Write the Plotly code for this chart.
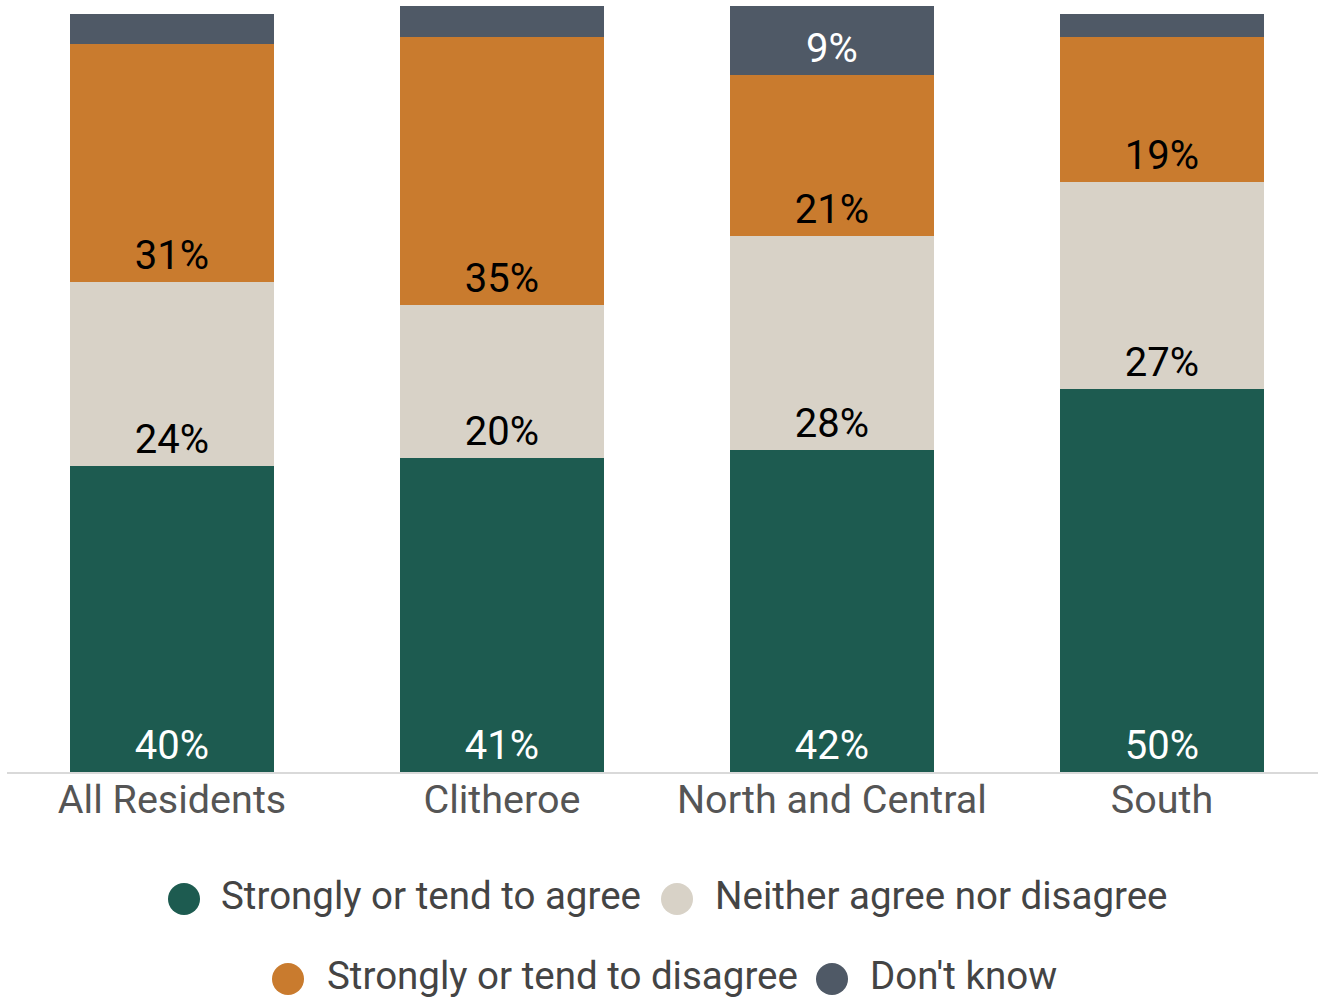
import plotly.graph_objects as go

categories = ["All Residents", "Clitheroe", "North and Central", "South"]
series_names = [
    "Strongly or tend to agree",
    "Neither agree nor disagree",
    "Strongly or tend to disagree",
    "Don't know",
]
agree = [40, 41, 42, 50]
neither = [24, 20, 28, 27]
disagree = [31, 35, 21, 19]
dont_know = [4, 4, 9, 3]

series_values = [agree, neither, disagree, dont_know]
colors = ["#1d5b50", "#d8d2c7", "#c97b2e", "#4f5966"]
label_colors = ["#ffffff", "#000000", "#000000", "#ffffff"]

FONT = "Roboto, Arial, sans-serif"
W, H = 1318, 997
M_L, M_R, M_T, M_B = 7, 0, 6, 225
PW, PH = W - M_L - M_R, H - M_T - M_B

fig = go.Figure()
for name, vals, col, lcol in zip(series_names, series_values, colors, label_colors):
    # small segments are left unlabelled
    labels = [f"{v}%" if v >= 5 else "" for v in vals]
    fig.add_trace(go.Bar(
        x=categories, y=vals, name=name,
        marker=dict(color=col, line=dict(width=0)),
        text=labels, textposition="inside", insidetextanchor="start",
        textangle=0, textfont=dict(family=FONT, size=40, color=lcol),
        showlegend=False, hoverinfo="skip",
    ))


def px_x(px):
    return (px - M_L) / PW


def px_y(py):
    return (H - M_B - py) / PH


# legend drawn as pixel-sized circles with text beside them
# (circle centre x, circle centre y, text left x, text centre y)
legend_items = [
    (184, 899, 220, 895),
    (677, 899, 714, 895),
    (288, 979, 326, 975),
    (832, 979, 869, 975),
]
shapes = []
annotations = []
for (cx, cy, tx, ty), name, col in zip(legend_items, series_names, colors):
    shapes.append(dict(
        type="circle", xref="paper", yref="paper",
        xsizemode="pixel", ysizemode="pixel",
        xanchor=px_x(cx), yanchor=px_y(cy),
        x0=-16, x1=16, y0=-16, y1=16,
        fillcolor=col, line=dict(width=0),
    ))
    annotations.append(dict(
        text=name, xref="paper", yref="paper",
        x=px_x(tx), y=px_y(ty), xanchor="left", yanchor="middle",
        showarrow=False, borderpad=0,
        font=dict(family=FONT, size=38.5, color="#444444"),
    ))

fig.update_layout(
    width=W, height=H,
    margin=dict(l=M_L, r=M_R, t=M_T, b=M_B, pad=0),
    barmode="stack", bargap=0.382,
    plot_bgcolor="white", paper_bgcolor="white",
    shapes=shapes, annotations=annotations,
    xaxis=dict(
        range=[-0.5, 3.473], showgrid=False, zeroline=False,
        showline=True, linecolor="#d9d9d9", linewidth=2,
        ticks="", ticklabelstandoff=-8,
        tickfont=dict(family=FONT, size=39.5, color="#555555"),
    ),
    yaxis=dict(range=[0, 100], visible=False, showgrid=False),
)

fig.write_html("out.html")
